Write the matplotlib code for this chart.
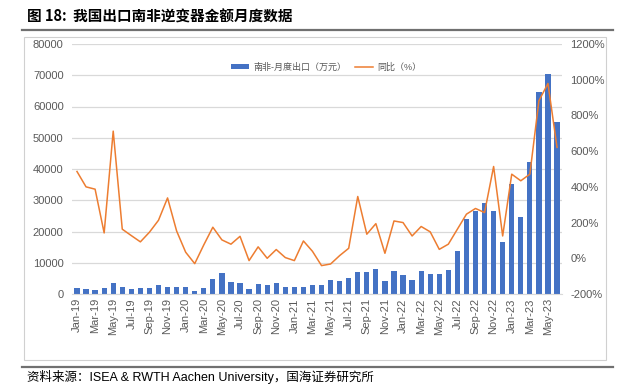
import matplotlib
matplotlib.use('Agg')
import matplotlib.pyplot as plt
import numpy as np
import pandas as pd

plt.rcParams['font.family'] = ['Liberation Sans', 'Noto Sans CJK SC', 'DejaVu Sans']

# monthly data, Jan-19 .. Jun-23
months = pd.date_range('2019-01-01', '2023-06-01', freq='MS').strftime('%b-%y').tolist()
export_val = [1800, 1600, 1200, 1800, 3400, 2200, 1600, 1800, 1900, 2900, 2400, 2400,
              2400, 1000, 1900, 4800, 6800, 3900, 3400, 1500, 3200, 2900, 3400, 2400,
              2100, 2100, 2800, 2800, 4400, 4300, 5200, 7000, 7100, 8100, 4300, 7400,
              6200, 4600, 7400, 6400, 6400, 7700, 13700, 24100, 26700, 29200, 26600, 16600,
              35200, 24800, 42100, 64500, 70500, 55000]
yoy_pct = [486, 400, 387, 142, 712, 163, 127, 92, 146, 213, 338, 153,
           34, -30, 75, 174, 103, 79, 123, -13, 64, 0, 49, 4,
           -13, 97, 39, -41, -32, 15, 56, 346, 135, 194, 28, 209,
           200, 125, 178, 148, 50, 79, 163, 247, 279, 256, 514, 125,
           471, 434, 471, 882, 979, 621]

bar_color = '#4472C4'
line_color = '#ED7D31'
tick_color = '#595959'

fig = plt.figure(figsize=(6.21, 3.89), dpi=100)

# title + rules + frame
fig.text(27/621, 1 - 17/389, '图 18:  我国出口南非逆变器金额月度数据', fontsize=10.5,
         fontweight='bold', va='center', ha='left', family=['Noto Sans CJK SC', 'DejaVu Sans'])
fig.add_artist(plt.Line2D([22/621, 613/621], [1 - 30/389] * 2, color='#707070', lw=1.6))
fig.add_artist(plt.Line2D([22/621, 613/621], [1 - 367/389] * 2, color='#707070', lw=1.6))
fig.add_artist(plt.Rectangle((24/621, 1 - 360/389), 582/621, 323/389, fill=False,
                             ec='#D0D0D0', lw=0.8))
fig.text(27/621, 1 - 377/389, '资料来源：ISEA & RWTH Aachen University，国海证券研究所',
         fontsize=9, va='center', ha='left')

ax = fig.add_axes([72/621, 1 - 294/389, 490/621, 250/389])
x = np.arange(len(months))
ax.bar(x, export_val, width=0.58, color=bar_color, zorder=2, label='南非-月度出口（万元）')
ax.set_xlim(-0.55, len(months) - 0.45)
ax.set_ylim(0, 80000)
ax.set_yticks(np.arange(0, 80001, 10000))
ax.grid(axis='y', color='#D9D9D9', lw=0.9, zorder=0)
ax.set_xticks(x[::2])
ax.set_xticklabels(months[::2], rotation=90, fontsize=8, color=tick_color)
ax.tick_params(axis='y', labelsize=8, colors=tick_color, length=0, pad=6)
ax.tick_params(axis='x', length=0, pad=3)
for s in ['top', 'right', 'left']:
    ax.spines[s].set_visible(False)
ax.spines['bottom'].set_color('#D9D9D9')

ax2 = ax.twinx()
ax2.plot(x, yoy_pct, color=line_color, lw=1.1, label='同比（%）', zorder=3)
ax2.set_ylim(-200, 1200)
ax2.set_yticks(np.arange(-200, 1201, 200))
ax2.set_yticklabels([f'{v}%' for v in range(-200, 1201, 200)])
ax2.tick_params(axis='y', labelsize=8, colors=tick_color, length=0, pad=6)
for s in ['top', 'right', 'left', 'bottom']:
    ax2.spines[s].set_visible(False)

h1, l1 = ax.get_legend_handles_labels()
h2, l2 = ax2.get_legend_handles_labels()
fig.legend(h1 + h2, l1 + l2, loc='center', bbox_to_anchor=(326/621, 1 - 67/389),
           ncol=2, frameon=False, fontsize=6.5, handlelength=2.0, handleheight=0.6,
           handletextpad=0.5, columnspacing=0.9, labelcolor=tick_color)

fig.savefig('out.png', dpi=100)
